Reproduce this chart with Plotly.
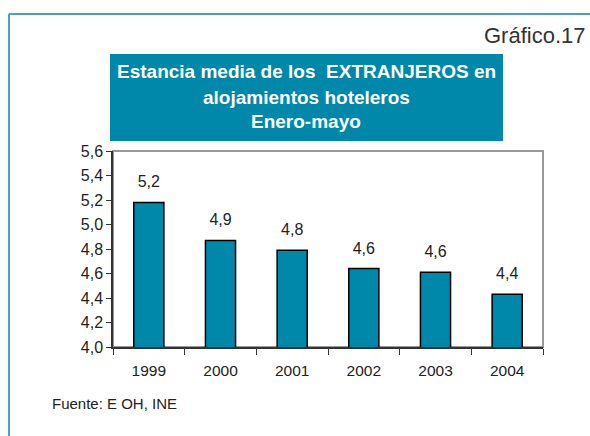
import plotly.graph_objects as go

# Estancia media de los extranjeros, enero-mayo
years = ['1999', '2000', '2001', '2002', '2003', '2004']
estancia = [5.18, 4.87, 4.79, 4.64, 4.61, 4.43]
labels = ['5,2', '4,9', '4,8', '4,6', '4,6', '4,4']
y_ticks = [4.0, 4.2, 4.4, 4.6, 4.8, 5.0, 5.2, 5.4, 5.6]

teal = '#0088AB'
font = 'Liberation Sans, Arial, sans-serif'

fig = go.Figure()
fig.add_trace(go.Bar(x=years, y=estancia, width=0.42,
                     marker=dict(color=teal, line=dict(color='black', width=1.5))))
# value labels above each bar (invisible markers just give the text some room)
fig.add_trace(go.Scatter(x=years, y=estancia, text=labels, mode='markers+text',
                         textposition='top center', marker=dict(size=16, color='rgba(0,0,0,0)'),
                         textfont=dict(size=16, color='#222'), hoverinfo='skip'))

# plot box (grey on top/right)
fig.add_shape(type='rect', xref='x domain', yref='y domain', x0=0, x1=1, y0=0, y1=1,
              line=dict(color='#999', width=2), layer='below')

# outer frame of the page
fig.add_shape(type='line', xref='paper', yref='paper', x0=-0.2419, x1=1.12, y0=1.699, y1=1.699,
              line=dict(color='#4A9FCC', width=2))
fig.add_shape(type='line', xref='paper', yref='paper', x0=-0.2419, x1=-0.2419, y0=1.699, y1=-0.46,
              line=dict(color='#4A9FCC', width=2))

# title box
fig.add_shape(type='rect', xref='paper', yref='paper', x0=-0.007, x1=0.907, y0=1.051, y1=1.495,
              fillcolor=teal, line=dict(width=0))
for txt, py in [('Estancia media de los  EXTRANJEROS en', 72),
                ('alojamientos hoteleros', 97), ('Enero-mayo', 122)]:
    fig.add_annotation(xref='paper', yref='paper', x=(306 - 113) / 430, y=(347 - py) / 196,
                       text='<b>' + txt + '</b>', showarrow=False, xanchor='center', yanchor='middle',
                       font=dict(size=19, color='white'))

fig.add_annotation(xref='paper', yref='paper', x=(588 - 113) / 430, y=(347 - 35) / 196,
                   text='Gráfico.17', showarrow=False, xanchor='right', yanchor='middle',
                   font=dict(size=22, color='#333'))
fig.add_annotation(xref='paper', yref='paper', x=(50 - 113) / 430, y=(347 - 403) / 196,
                   text='Fuente: E OH, INE', showarrow=False, xanchor='left', yanchor='middle',
                   font=dict(size=15, color='#222'))

fig.update_xaxes(type='category', showline=True, linecolor='#333', linewidth=1.5, ticks='outside',
                 tickson='boundaries', ticklen=6, tickcolor='#333', ticklabelstandoff=9,
                 tickfont=dict(size=15.5, color='#222'), showgrid=False)
fig.update_yaxes(range=[4.0, 5.6], tickvals=y_ticks, tickformat='.1f', showline=True,
                 linecolor='#333', linewidth=1.5, ticks='outside', ticklen=5, tickcolor='#333',
                 tickfont=dict(size=16, color='#222'), showgrid=False, zeroline=False)
fig.update_layout(width=590, height=436, margin=dict(l=113, r=47, t=151, b=89),
                  plot_bgcolor='white', paper_bgcolor='white', separators=',.',
                  showlegend=False, bargap=0.58, font=dict(family=font))

fig.write_html('out.html', config={'displayModeBar': False},
               post_script="document.body.style.margin='0';")
